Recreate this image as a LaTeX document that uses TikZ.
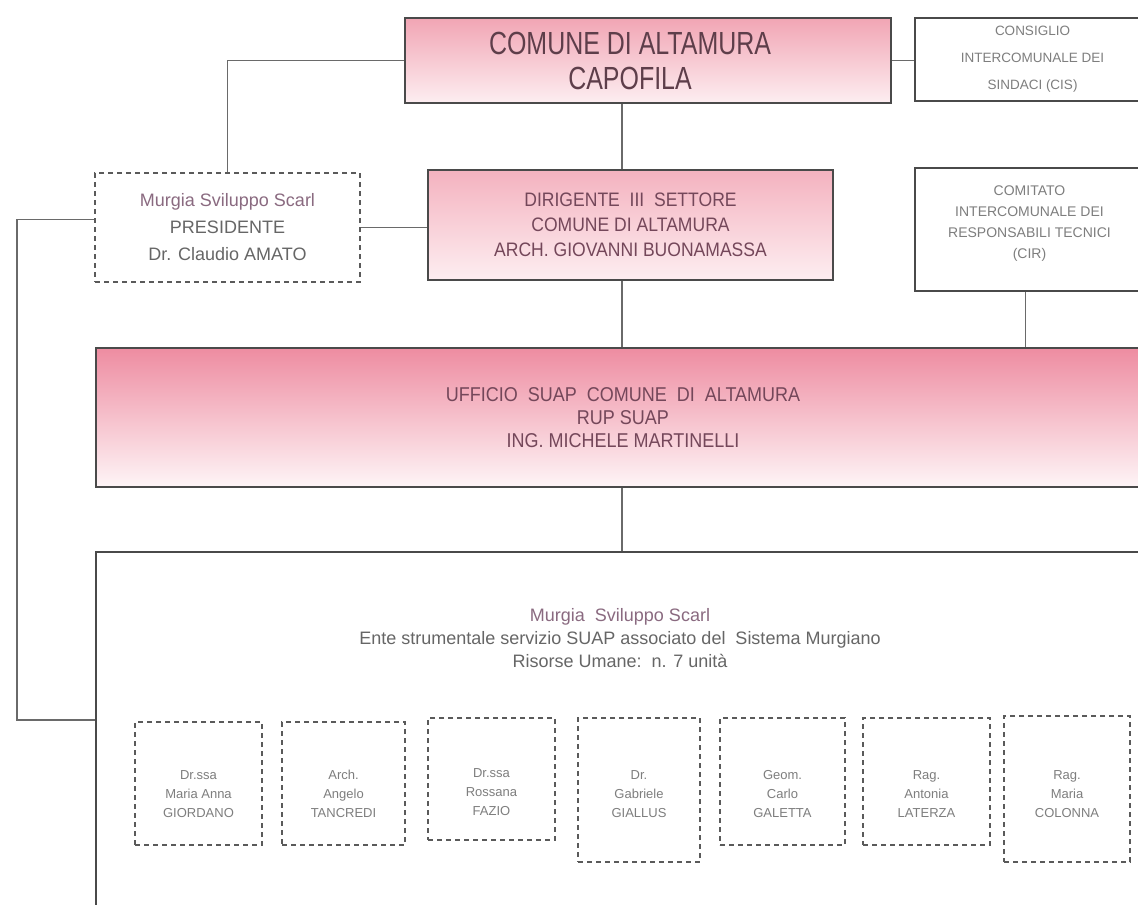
\documentclass[tikz,border=0pt]{standalone}
\usepackage{fontspec}
\setmainfont{Liberation Sans}
\newfontfamily\narrowfont[FakeStretch=0.78]{Liberation Sans}
\newfontfamily\semifont[FakeStretch=0.9]{Liberation Sans}
\definecolor{boxgray}{HTML}{4A4A4A}
\definecolor{dashgray}{HTML}{5A5A5A}
\definecolor{linegray}{HTML}{6A6A6A}
\definecolor{maroontext}{HTML}{74475A}
\definecolor{titletext}{HTML}{5E3E4A}
\definecolor{lighttext}{HTML}{7E7E7E}
\definecolor{midtext}{HTML}{666666}
\definecolor{pinktext}{HTML}{8A6A80}
\definecolor{pinkA}{HTML}{F1A5B4}
\definecolor{pinkB}{HTML}{FDEEF1}
\definecolor{pinkC}{HTML}{F4B2BF}
\definecolor{pinkD}{HTML}{EE8CA1}
\definecolor{pinkE}{HTML}{F8CFD8}
\begin{document}
\begin{tikzpicture}[x=1pt,y=-1pt,
  pinkbox/.style={draw=boxgray, line width=2.2pt, inner sep=0pt, align=center, text=maroontext},
  plainbox/.style={draw=boxgray, line width=1.8pt, fill=white, inner sep=0pt, align=center, text=lighttext,
    font=\fontsize{14}{21}\selectfont},
  dashbox/.style={draw=dashgray, line width=2.2pt, dash pattern=on 5pt off 4pt, inner sep=0pt, align=center},
  staffbox/.style={dashbox},
  stafftext/.style={align=center, inner sep=0pt, text=lighttext, font=\fontsize{13}{19}\selectfont},
  link/.style={draw=linegray, line width=1.8pt}]
\useasboundingbox (0,0) rectangle (1138,905);
\clip (0,0) rectangle (1138,905);
\fill[white] (0,0) rectangle (1138,905);

% top row
\node[pinkbox, top color=pinkA, bottom color=pinkB, minimum width=486pt, minimum height=85pt] (comune) at (648,60.5) {};
\node[align=center, inner sep=0pt, text=titletext, font=\narrowfont\fontsize{32}{35}\selectfont]
  (comunetext) at ([xshift=-18pt]comune.center) {COMUNE DI ALTAMURA\\CAPOFILA};
\node[plainbox, minimum width=235pt, minimum height=83pt, font=\fontsize{13.5}{27}\selectfont]
  (cis) at (1032.5,59.5) {CONSIGLIO\\INTERCOMUNALE DEI\\SINDACI (CIS)};

% second row
\node[dashbox, minimum width=265pt, minimum height=109pt, font=\fontsize{18}{27}\selectfont, text=midtext]
  (pres) at (227.5,227.5) {\textcolor{pinktext}{Murgia Sviluppo Scarl}\\PRESIDENTE\\Dr. Claudio AMATO};
\node[pinkbox, top color=pinkC, bottom color=pinkB, minimum width=405pt, minimum height=110pt,
  font=\semifont\fontsize{19.5}{25}\selectfont] (dir) at (630.5,225)
  {DIRIGENTE\ \ III\ \ SETTORE\\COMUNE DI ALTAMURA\\ARCH. GIOVANNI BUONAMASSA};
\node[plainbox, minimum width=235pt, minimum height=123pt] (cir) at (1032.5,229.5) {};
\node[align=center, inner sep=0pt, text=lighttext, font=\fontsize{14}{21}\selectfont]
  (cirtext) at ([xshift=-3pt,yshift=6pt]cir.center) {COMITATO\\INTERCOMUNALE DEI\\RESPONSABILI TECNICI\\(CIR)};

% SUAP office
\node[pinkbox, top color=pinkD, middle color=pinkE, bottom color=pinkB!60!white, minimum width=1054pt, minimum height=139pt,
  font=\semifont\fontsize{20}{23}\selectfont] (suap) at (623,417.5)
  {UFFICIO\ \ SUAP\ \ COMUNE\ \ DI\ \ ALTAMURA\\RUP SUAP\\ING. MICHELE MARTINELLI};

% big lower box
\node[draw=boxgray, line width=1.8pt, fill=white, minimum width=1054pt, minimum height=368pt] (big) at (623,736) {};
\node[align=center, text=midtext, font=\fontsize{18}{23}\selectfont] (bigtext) at (620,638)
  {\textcolor{pinktext}{Murgia\ \ Sviluppo Scarl}\\Ente strumentale servizio SUAP associato del\ \ Sistema Murgiano\\Risorse Umane:\ \ n. 7 unità};

% staff boxes
\node[staffbox, minimum width=127pt, minimum height=123pt] (s1) at (198.5,783.5) {};
\node[staffbox, minimum width=123pt, minimum height=123pt] (s2) at (343.5,783.5) {};
\node[staffbox, minimum width=127pt, minimum height=122pt] (s3) at (491.5,779) {};
\node[staffbox, minimum width=122pt, minimum height=144pt] (s4) at (639,790) {};
\node[staffbox, minimum width=125pt, minimum height=127pt] (s5) at (782.5,781.5) {};
\node[staffbox, minimum width=127pt, minimum height=127pt] (s6) at (926.5,781.5) {};
\node[staffbox, minimum width=126pt, minimum height=146pt] (s7) at (1067,789) {};
\node[stafftext] (t1) at (s1.center |- 0,794) {Dr.ssa\\Maria Anna\\GIORDANO};
\node[stafftext] (t2) at (s2.center |- 0,794) {Arch.\\Angelo\\TANCREDI};
\node[stafftext] (t3) at (s3.center |- 0,792) {Dr.ssa\\Rossana\\FAZIO};
\node[stafftext] (t4) at (s4.center |- 0,794) {Dr.\\Gabriele\\GIALLUS};
\node[stafftext] (t5) at (s5.center |- 0,794) {Geom.\\Carlo\\GALETTA};
\node[stafftext] (t6) at (s6.center |- 0,794) {Rag.\\Antonia\\LATERZA};
\node[stafftext] (t7) at (s7.center |- 0,794) {Rag.\\Maria\\COLONNA};

% connectors
\coordinate (spine) at (622,0);
\coordinate (leftrail) at (17,720);
\path[link] (comune.west) -| (pres.north);
\path[link] (comune.east) -- (comune.east -| cis.west);
\path[link] (comune.south -| spine) -- (dir.north -| spine);
\path[link] (pres.east) -- (pres.east -| dir.west);
\path[link] (dir.south -| spine) -- (suap.north -| spine);
\path[link] ([xshift=-7pt]cir.south) -- ([xshift=-7pt]cir.south |- suap.north);
\path[link] (suap.south -| spine) -- (big.north -| spine);
\path[link] ([yshift=8pt]pres.west) -| (leftrail) -- (leftrail -| big.west);
\end{tikzpicture}
\end{document}
